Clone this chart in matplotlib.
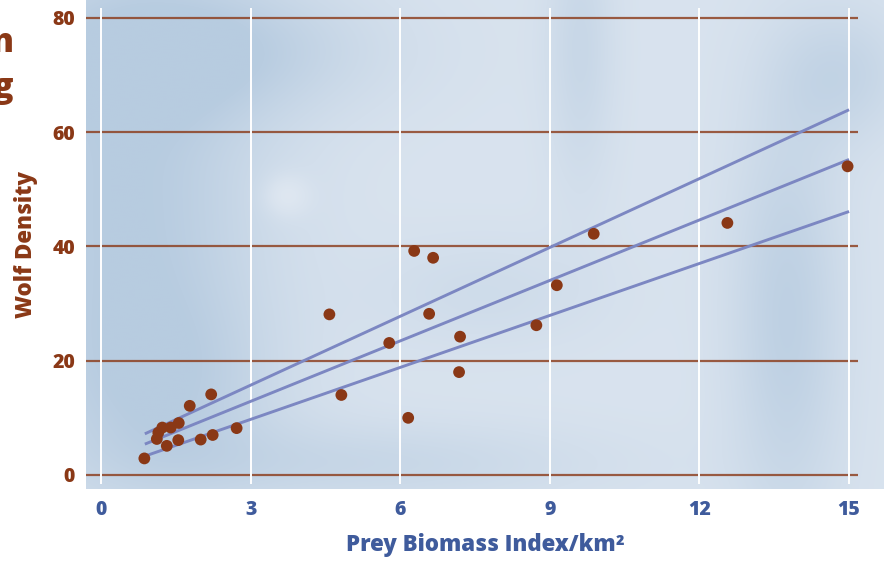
import numpy as np
import matplotlib
matplotlib.use("Agg")
import matplotlib.pyplot as plt

# Observed sites: prey biomass index vs wolf density
prey = [0.87, 1.12, 1.15, 1.23, 1.40, 1.56, 1.32, 1.55, 2.00, 2.24, 2.72, 1.78, 2.21,
        4.58, 4.82, 5.78, 6.16, 6.28, 6.58, 6.66, 7.18, 7.20,
        8.73, 9.14, 9.88, 12.56, 14.97]
wolf = [2.9, 6.3, 7.4, 8.3, 8.3, 9.1, 5.1, 6.1, 6.2, 7.0, 8.2, 12.1, 14.1,
        28.1, 14.0, 23.1, 10.0, 39.2, 28.2, 38.0, 18.0, 24.2,
        26.2, 33.2, 42.2, 44.1, 54.0]

# Fitted lines (upper, middle, lower) read at both ends
fit_x = [0.88, 15.0]
fit_upper = [7.2, 63.9]
fit_mid = [5.4, 55.2]
fit_lower = [3.3, 46.1]

xticks = [0, 3, 6, 9, 12, 15]
yticks = [0, 20, 40, 60, 80]

brown = "#8a3816"
blue_text = "#3f5b9c"
line_col = "#7c87c2"

plt.rcParams["font.family"] = ["Open Sans", "DejaVu Sans"]
plt.rcParams["font.weight"] = "heavy"

fig = plt.figure(figsize=(8.84, 5.62), dpi=100)
ax = fig.add_axes([86 / 884, 73 / 562, 798 / 884, 489 / 562])
xlim = (-0.30, 15.70)
ylim = (-2.45, 83.1)
ax.set_xlim(*xlim)
ax.set_ylim(*ylim)

# soft blue backdrop
gx, gy = np.meshgrid(np.linspace(0, 1, 400), np.linspace(0, 1, 250))
field = np.zeros_like(gx)
blobs = [(0.05, 0.6, 0.12, 0.35, 1.0), (0.15, 0.9, 0.15, 0.1, 0.8),
         (0.1, 0.2, 0.1, 0.15, 0.6), (0.88, 0.35, 0.05, 0.3, 0.8),
         (0.62, 0.9, 0.03, 0.2, 0.5), (0.95, 0.85, 0.06, 0.1, 0.6),
         (0.35, 0.05, 0.2, 0.06, 0.5), (0.5, 0.4, 0.1, 0.08, 0.3)]
for cx, cy, sx, sy, a in blobs:
    field += a * np.exp(-((gx - cx) ** 2 / (2 * sx ** 2) + (gy - cy) ** 2 / (2 * sy ** 2)))
field -= 0.5 * np.exp(-((gx - 0.25) ** 2 / (2 * 0.02 ** 2) + (gy - 0.6) ** 2 / (2 * 0.03 ** 2)))
field = np.clip(field, -0.5, 1.0)
light = np.array([0.85, 0.89, 0.935])
dark = np.array([0.72, 0.80, 0.88])
t = np.clip(field, 0, 1)[..., None]
img = light * (1 - t) + dark * t
img = np.where(field[..., None] < 0, light + (1 - light) * (-field[..., None]) * 0.6, img)
ax.imshow(img, extent=[xlim[0], xlim[1], ylim[0], ylim[1]], origin="lower",
          aspect="auto", zorder=0, interpolation="bicubic")

# grid
ax.hlines(yticks, -0.32, 15.18, color=brown, lw=1.6, alpha=0.8, zorder=1)
ax.vlines(xticks, -1.6, 81.7, color="white", lw=1.4, zorder=1)

for ys in (fit_upper, fit_mid, fit_lower):
    ax.plot(fit_x, ys, color=line_col, lw=2.1, solid_capstyle="butt", zorder=2)

ax.scatter(prey, wolf, s=72, color=brown, edgecolors="none", zorder=3)

for s in ax.spines.values():
    s.set_visible(False)
ax.set_xticks(xticks)
ax.set_yticks(yticks)
ax.tick_params(length=0, pad=8)
for lab in ax.get_xticklabels():
    lab.set_color(blue_text)
    lab.set_fontweight("heavy")
    lab.set_fontsize(14)
for lab in ax.get_yticklabels():
    lab.set_color(brown)
    lab.set_fontweight("heavy")
    lab.set_fontsize(14)
ax.set_xlabel("Prey Biomass Index/km²", color=blue_text, fontsize=16,
              fontweight="heavy", labelpad=9)
ax.set_ylabel("Wolf Density", color=brown, fontsize=16, fontweight="heavy",
              labelpad=10)

# title block partly outside the canvas
fig.text(14 / 884, 1 - 52 / 562, "Wolf Population", ha="right", va="baseline",
         color=brown, fontsize=24, fontweight="heavy")
fig.text(14 / 884, 1 - 97 / 562, "Scaling", ha="right", va="baseline",
         color=brown, fontsize=24, fontweight="heavy")

fig.savefig("out.png", dpi=100)
